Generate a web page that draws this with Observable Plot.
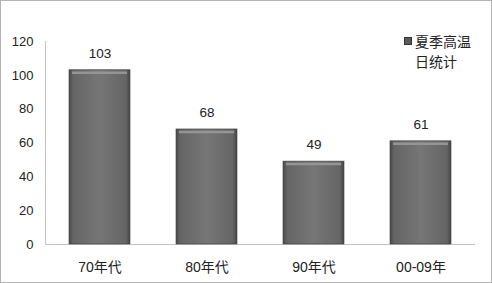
<!DOCTYPE html>
<html><head><meta charset="utf-8">
<script src="https://cdn.jsdelivr.net/npm/d3@7"></script>
<script src="https://cdn.jsdelivr.net/npm/@observablehq/plot@0.6"></script>
<style>
body{margin:0;background:#fff;font-family:"Liberation Sans","Noto Sans CJK SC",sans-serif;}
#wrap{position:relative;width:490px;height:281px;border:1px solid #b4b4b4;}
#legend{position:absolute;left:403px;top:30px;font-size:14px;line-height:20px;color:#222;font-family:"Noto Sans CJK SC",sans-serif;}
#legend .sw{display:inline-block;width:6px;height:6px;background:#5a5a5a;border:1px solid #333;margin-right:3px;vertical-align:2px;}
#legend .l2{padding-left:11px;}
</style></head>
<body><div id="wrap"><div id="legend"></div></div>
<script>
const categories = ["70年代","80年代","90年代","00-09年"];
const values = [103, 68, 49, 61];
const yTicks = [0, 20, 40, 60, 80, 100, 120];
const legendLines = ["夏季高温", "日统计"];

const data = categories.map((c, i) => ({cat: c, v: values[i]}));

const defs = () => {
  const s = d3.create("svg:defs");
  const g = s.append("linearGradient").attr("id", "barg").attr("x1", "0").attr("x2", "1").attr("y1", "0").attr("y2", "0");
  [[0,"#4a4a4a"],[0.07,"#656565"],[0.5,"#767676"],[0.93,"#656565"],[1,"#474747"]].forEach(([o,c]) =>
    g.append("stop").attr("offset", o).attr("stop-color", c));
  return s.node();
};

const yLine = (index, scales, values, dims) => {
  const x = dims.marginLeft + 0.5;
  return d3.create("svg:line").attr("x1", x).attr("x2", x)
    .attr("y1", scales.y(120)).attr("y2", scales.y(0))
    .attr("stroke", "#c4c4c4").node();
};

const chart = Plot.plot({
  width: 490, height: 281,
  marginLeft: 44, marginRight: 16, marginTop: 40, marginBottom: 38,
  style: {fontSize: "13px", fontFamily: "'Liberation Sans','Noto Sans CJK SC',sans-serif", color: "#222", background: "#fff"},
  x: {domain: categories, paddingInner: 0.43, paddingOuter: 0.215, label: null},
  y: {domain: [0, 120], ticks: yTicks, label: null},
  marks: [
    defs,
    yLine,
    Plot.ruleY([0], {stroke: "#c4c4c4"}),
    Plot.barY(data, {x: "cat", y: "v", fill: "url(#barg)", stroke: "#3e3e3e", strokeWidth: 0.6}),
    Plot.tickY(data, {x: "cat", y: "v", stroke: "#959595", strokeWidth: 2.5, dy: 2.5, insetLeft: 3, insetRight: 3}),
    Plot.text(data, {x: "cat", y: "v", text: d => String(d.v), dy: -17, fill: "#222", fontSize: 13.5}),
    Plot.axisY({ticks: yTicks, tickSize: 0, tickPadding: 12, fontSize: 13, fill: "#222"}),
    Plot.axisX({tickSize: 0, tickPadding: 18, fontSize: 14, fill: "#222"})
  ]
});
document.getElementById("wrap").prepend(chart);
const lg = document.getElementById("legend");
lg.innerHTML = `<div><span class="sw"></span>${legendLines[0]}</div><div class="l2">${legendLines[1]}</div>`;
</script></body></html>
